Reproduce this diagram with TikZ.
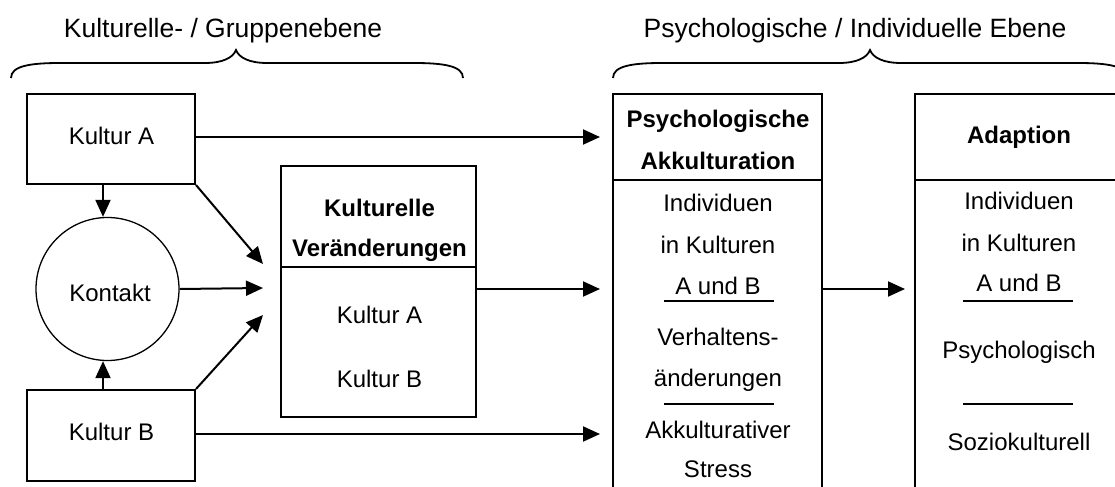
\documentclass[tikz,border=0pt]{standalone}
\usepackage{fontspec}
\setmainfont{Liberation Sans}
\usetikzlibrary{arrows.meta,calc}
\begin{document}
\begin{tikzpicture}[x=0.5pt,y=-0.5pt,
  box/.style={draw,line width=1pt,inner sep=0pt},
  txt/.style={anchor=base,inner sep=0pt,font=\fontsize{12}{14}\selectfont},
  btxt/.style={anchor=base,inner sep=0pt,font=\fontsize{12}{14}\selectfont\bfseries},
  htxt/.style={anchor=base,inner sep=0pt,font=\fontsize{13.25}{15}\selectfont},
  arr/.style={line width=1pt,-{Triangle[length=8.5pt,width=7.5pt]}},
  sepline/.style={line width=1pt},
  bracepath/.style={line width=0.9pt}]
\useasboundingbox (0,0) rectangle (1115,487);
\clip (0,0) rectangle (1115,487);

% headings and braces
\node[htxt] (h1) at (223,37) {Kulturelle- / Gruppenebene};
\node[htxt] (h2) at (855,37) {Psychologische / Individuelle Ebene};
\draw[bracepath] (11,78) .. controls (11,66) and (30,63) .. (60,63) -- (205,63)
  .. controls (222,63) and (233,58) .. (236,50)
  .. controls (239,58) and (250,63) .. (267,63) -- (414,63)
  .. controls (444,63) and (463,66) .. (463,78);
\draw[bracepath] (613,78) .. controls (613,66) and (632,63) .. (662,63) -- (839,63)
  .. controls (856,63) and (867,58) .. (870,50)
  .. controls (873,58) and (884,63) .. (901,63) -- (1078,63)
  .. controls (1108,63) and (1127,66) .. (1127,78);

% boxes
\node[box,minimum width=84pt,minimum height=45pt] (kA) at (111,139) {};
\node[box,minimum width=84pt,minimum height=45.5pt] (kB) at (111,435.5) {};
\node[draw,circle,line width=0.65pt,minimum size=71.5pt,inner sep=0pt] (kon) at (107.5,289) {};
\node[box,minimum width=97.5pt,minimum height=125.5pt] (kv) at (378.5,291.5) {};
\node[box,minimum width=104.5pt,minimum height=203pt] (ps) at (717.5,297) {};
\node[box,minimum width=103pt,minimum height=203pt] (ad) at (1018,297) {};

% dividers
\coordinate (d1) at (0,267);
\coordinate (d2) at (0,180);
\draw[sepline] (kv.west |- d1) -- (kv.east |- d1);
\draw[sepline] (ps.west |- d2) -- (ps.east |- d2);
\draw[sepline] (ad.west |- d2) -- (ad.east |- d2);

% texts left
\node[txt] (tA) at (111.5,144.5) {Kultur A};
\node[txt] (tB) at (111.5,440) {Kultur B};
\node[txt] (tK) at (110,301) {Kontakt};
\node[btxt] (tv1) at (379.5,216) {Kulturelle};
\node[btxt] (tv2) at (379.5,256) {Veränderungen};
\node[txt] (tv3) at (379.5,323) {Kultur A};
\node[txt] (tv4) at (379.5,387) {Kultur B};

% psych column
\node[btxt] (p1) at (718,127) {Psychologische};
\node[btxt] (p2) at (718,169) {Akkulturation};
\node[txt] (p3) at (718,211.5) {Individuen};
\node[txt] (p4) at (718,253) {in Kulturen};
\node[txt] (p5) at (718,294) {A und B};
\node[txt] (p6) at (718,345) {Verhaltens-};
\node[txt] (p7) at (718,386) {änderungen};
\node[txt] (p8) at (718,438) {Akkulturativer};
\node[txt] (p9) at (718,477) {Stress};
\coordinate (u1) at (719,301);
\coordinate (u2) at (719,404);
\draw[sepline] ([xshift=-27.5pt]u1) -- ([xshift=27.5pt]u1);
\draw[sepline] ([xshift=-27.5pt]u2) -- ([xshift=27.5pt]u2);

% adaption column
\node[btxt] (a1) at (1019,143) {Adaption};
\node[txt] (a2) at (1019,209.5) {Individuen};
\node[txt] (a3) at (1019,251) {in Kulturen};
\node[txt] (a4) at (1019,291) {A und B};
\node[txt] (a5) at (1019,358) {Psychologisch};
\node[txt] (a6) at (1019,450) {Soziokulturell};
\coordinate (w1) at (1017.5,301);
\coordinate (w2) at (1017.5,404);
\draw[sepline] ([xshift=-27.5pt]w1) -- ([xshift=27.5pt]w1);
\draw[sepline] ([xshift=-27.5pt]w2) -- ([xshift=27.5pt]w2);

% arrow end points
\coordinate (t1) at (263,264);
\coordinate (t2) at (263,288);
\coordinate (t3) at (263,315);
\coordinate (pa) at (600,137);
\coordinate (pb) at (600,289);
\coordinate (pc) at (600,434);
\coordinate (q) at (905,289);
\coordinate (va) at ([xshift=-4pt]kA.south);
\coordinate (vb) at ([xshift=-4pt]kB.north);

% arrows
\draw[arr] (va) -- (va |- kon.north);
\draw[arr] (vb) -- (vb |- kon.south);
\draw[arr] (kA.south east) -- (t1);
\draw[arr] (kon.east) -- (t2);
\draw[arr] (kB.north east) -- (t3);
\draw[arr] (kA.east |- pa) -- (pa);
\draw[arr] (kB.east |- pc) -- (pc);
\draw[arr] (kv.east |- pb) -- (pb);
\draw[arr] (ps.east |- q) -- (q);
\end{tikzpicture}
\end{document}
